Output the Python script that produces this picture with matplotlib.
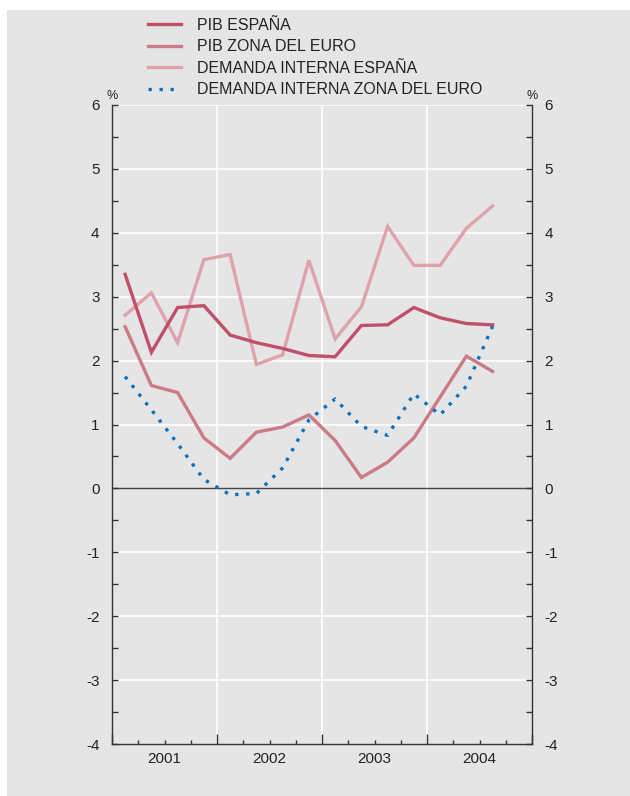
import matplotlib.pyplot as plt
import numpy as np
from matplotlib.ticker import MultipleLocator, FixedLocator

plt.rcParams['font.family'] = ['Liberation Sans', 'DejaVu Sans']
plt.rcParams['axes.unicode_minus'] = False

# trimestres 2001T1 - 2004T3, tasas interanuales (%)
years = ['2001', '2002', '2003', '2004']
pib_es = [3.35, 2.13, 2.83, 2.86, 2.40, 2.28, 2.19, 2.08, 2.06, 2.55, 2.56, 2.83, 2.67, 2.58, 2.56]
pib_ez = [2.53, 1.61, 1.50, 0.79, 0.47, 0.88, 0.96, 1.15, 0.75, 0.17, 0.41, 0.79, 1.43, 2.07, 1.83]
dem_es = [2.71, 3.06, 2.28, 3.58, 3.66, 1.94, 2.09, 3.57, 2.34, 2.84, 4.10, 3.49, 3.49, 4.07, 4.42]
dem_ez = [1.75, 1.23, 0.70, 0.14, -0.10, -0.08, 0.32, 1.07, 1.40, 0.97, 0.83, 1.48, 1.15, 1.60, 2.54]
labels = ['PIB ESPAÑA', 'PIB ZONA DEL EURO', 'DEMANDA INTERNA ESPAÑA', 'DEMANDA INTERNA ZONA DEL EURO']

bg = '#e5e5e5'
txt = '#222222'

fig = plt.figure(figsize=[6.3, 7.96], dpi=100, facecolor='white')
fig.patches.append(plt.Rectangle((7 / 630, 0), 1, 1 - 10 / 796, transform=fig.transFigure,
                                 facecolor=bg, edgecolor='none', zorder=-1))
ax = fig.add_axes([112 / 630, 52 / 796, 420 / 630, 639 / 796])
ax.set_facecolor(bg)

x = np.arange(len(pib_es)) + 0.5
l1, = ax.plot(x, pib_es, color='#c0506a', lw=2.4, solid_joinstyle='miter', zorder=4)
l2, = ax.plot(x, pib_ez, color='#cc7a88', lw=2.4, solid_joinstyle='miter', zorder=3)
l3, = ax.plot(x, dem_es, color='#dfa2aa', lw=2.4, solid_joinstyle='miter', zorder=2)
l4, = ax.plot(x, dem_ez, color='#0a70c0', lw=2.4, linestyle=(0, (1, 2.3)), dash_capstyle='butt', zorder=5)

ax.set_xlim(0, 16)
ax.set_ylim(-4, 6)

# rejilla blanca
for yy in range(-3, 7):
    if yy != 0:
        ax.axhline(yy, color='white', lw=1.2, zorder=1)
for xx in [4, 8, 12]:
    ax.axvline(xx, color='white', lw=1.2, zorder=1)
ax.axhline(0, color='#444444', lw=1.0, zorder=1.5)

ax.spines['top'].set_visible(False)
for s in ['left', 'right', 'bottom']:
    ax.spines[s].set_color('#333333')
    ax.spines[s].set_linewidth(1.0)

ax.yaxis.set_major_locator(MultipleLocator(1))
ax.yaxis.set_minor_locator(MultipleLocator(0.5))
ax.tick_params(axis='y', which='both', direction='in', left=True, right=True,
               labelleft=True, labelright=True, colors='#333333', labelcolor=txt, labelsize=11)
ax.tick_params(axis='y', which='major', length=4, width=1, pad=9)
ax.tick_params(axis='y', which='minor', length=4, width=1)

ax.xaxis.set_major_locator(FixedLocator([0, 4, 8, 12, 16]))
ax.xaxis.set_minor_locator(FixedLocator([q for q in range(17) if q % 4]))
ax.set_xticklabels([])
ax.tick_params(axis='x', which='major', direction='in', length=7, width=1, colors='#333333')
ax.tick_params(axis='x', which='minor', direction='in', length=3, width=1, colors='#333333')
for i, yr in enumerate(years):
    ax.text(4 * i + 2, -4.12, yr, ha='center', va='top', fontsize=11, color=txt)

ax.text(0, 6.05, '%', ha='center', va='bottom', fontsize=9, color=txt)
ax.text(16, 6.05, '%', ha='center', va='bottom', fontsize=9, color=txt)

fig.legend([l1, l2, l3, l4], labels, loc='upper left', bbox_to_anchor=(148 / 630, 1 - 18 / 796),
           frameon=False, fontsize=11.5, handlelength=2.05, handletextpad=1.0, labelspacing=0.4,
           borderpad=0, borderaxespad=0, labelcolor=txt)

plt.savefig('out.png', dpi=100, facecolor=fig.get_facecolor())
plt.close()
